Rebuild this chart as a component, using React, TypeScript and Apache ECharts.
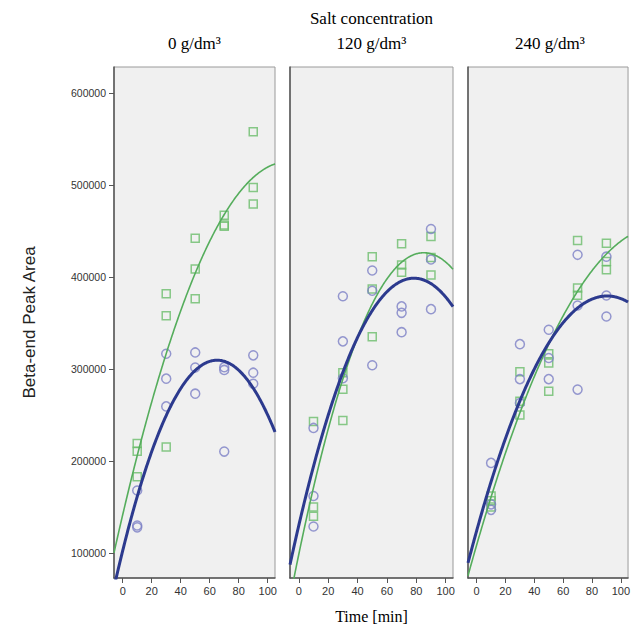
import React, { useEffect, useRef } from "react";
import * as echarts from "echarts";

const timePoints = [10, 30, 50, 70, 90];
const panelLabels = ["0 g/dm³", "120 g/dm³", "240 g/dm³"];
const yTicks = [100000, 200000, 300000, 400000, 500000, 600000];
const xTicks = [0, 20, 40, 60, 80, 100];

// green squares, three replicates per time point
const squares0 = [[219000, 210700, 183000], [381700, 357800, 215400], [442000, 408700, 376300], [467000, 456500, 455000], [557700, 497000, 479300]];
const squares120 = [[243000, 150000, 140000], [296000, 278000, 244000], [422000, 387000, 335000], [436000, 413000, 405000], [444000, 421000, 402000]];
const squares240 = [[162000, 157000, 150000], [297000, 265000, 250000], [316600, 306500, 275700], [439500, 388000, 380000], [436700, 416700, 407700]];
// blue circles
const circles0 = [[168000, 130000, 128000], [316600, 289500, 259400], [318000, 301700, 273200], [302000, 299000, 210300], [314800, 296000, 284000]];
const circles120 = [[236000, 162000, 129000], [379000, 330000, 290000], [407000, 385000, 304000], [368000, 361000, 340000], [452000, 419000, 365000]];
const circles240 = [[198000, 153000, 147000], [327000, 289000, 263000], [342600, 312000, 289000], [424000, 369000, 277600], [422000, 379800, 357000]];

const squaresByPanel = [squares0, squares120, squares240];
const circlesByPanel = [circles0, circles120, circles240];

const X_MIN = -6;
const X_MAX = 105;
const Y_MIN = 73000;
const Y_MAX = 628000;

function toPairs(groups: number[][]): number[][] {
  const out: number[][] = [];
  groups.forEach((vals, i) => vals.forEach((v) => out.push([timePoints[i], v])));
  return out;
}

// least-squares quadratic fit of the points
function quadFit(pairs: number[][]): number[] {
  let s0 = 0, s1 = 0, s2 = 0, s3 = 0, s4 = 0, t0 = 0, t1 = 0, t2 = 0;
  pairs.forEach(([x, y]) => {
    s0 += 1; s1 += x; s2 += x * x; s3 += x * x * x; s4 += x * x * x * x;
    t0 += y; t1 += x * y; t2 += x * x * y;
  });
  const det3 = (m: number[][]) =>
    m[0][0] * (m[1][1] * m[2][2] - m[1][2] * m[2][1]) -
    m[0][1] * (m[1][0] * m[2][2] - m[1][2] * m[2][0]) +
    m[0][2] * (m[1][0] * m[2][1] - m[1][1] * m[2][0]);
  const A = [[s0, s1, s2], [s1, s2, s3], [s2, s3, s4]];
  const B = [t0, t1, t2];
  const D = det3(A);
  return [0, 1, 2].map((c) => {
    const M = A.map((row, r) => row.map((v, k) => (k === c ? B[r] : v)));
    return det3(M) / D;
  });
}

function fitCurve(pairs: number[][]): number[][] {
  const [a, b, c] = quadFit(pairs);
  const out: number[][] = [];
  for (let x = X_MIN; x <= X_MAX + 0.001; x += 0.5) out.push([x, a + b * x + c * x * x]);
  return out;
}

const GREEN_PT = "#6cbd6c";
const GREEN_LINE = "#55ad5c";
const BLUE_PT = "#7c80c6";
const BLUE_LINE = "#2c3a8e";
const SERIF = "'Liberation Serif', 'Times New Roman', serif";
const SANS = "Arial, 'Liberation Sans', sans-serif";

const panelLefts = [114, 290, 468];
const panelWidths = [161, 163, 164];
const TOP = 67;
const HEIGHT = 511;

export default function App() {
  const ref = useRef<HTMLDivElement>(null);
  useEffect(() => {
    if (!ref.current) return;
    const chart = echarts.init(ref.current, null, { renderer: "svg" });
    const grids: any[] = [];
    const xAxes: any[] = [];
    const yAxes: any[] = [];
    const series: any[] = [];
    const graphics: any[] = [];
    for (let p = 0; p < 3; p++) {
      grids.push({
        left: panelLefts[p], top: TOP, width: panelWidths[p], height: HEIGHT,
        show: true, backgroundColor: "#f0f0f0", borderColor: "#9a9a9a", borderWidth: 1,
      });
      xAxes.push({
        type: "value", gridIndex: p, min: X_MIN, max: X_MAX,
        splitLine: { show: false },
        axisLine: { show: true, onZero: false, lineStyle: { color: "#555", width: 1.5 } },
        axisTick: { show: true, customValues: xTicks, length: 5, lineStyle: { color: "#555" } },
        axisLabel: { customValues: xTicks, margin: 7, fontSize: 11, color: "#333", fontFamily: SANS },
        name: p === 1 ? "Time [min]" : "",
        nameLocation: "middle", nameGap: 30,
        nameTextStyle: { fontFamily: SERIF, fontSize: 16, color: "#000" },
      });
      yAxes.push({
        type: "value", gridIndex: p, min: Y_MIN, max: Y_MAX,
        splitLine: { show: false },
        axisLine: { show: true, onZero: false, lineStyle: { color: "#555", width: 1.5 } },
        axisTick: { show: p === 0, customValues: yTicks, length: 5, lineStyle: { color: "#555" } },
        axisLabel: {
          show: p === 0, customValues: yTicks, margin: 8, fontSize: 10.5, color: "#333", fontFamily: SANS,
          formatter: (v: number) => String(v),
        },
        name: p === 0 ? "Beta-end Peak Area" : "",
        nameLocation: "middle", nameGap: 76,
        nameTextStyle: { fontFamily: SANS, fontSize: 17, color: "#222" },
      });
      const sq = toPairs(squaresByPanel[p]);
      const ci = toPairs(circlesByPanel[p]);
      series.push({
        type: "scatter", xAxisIndex: p, yAxisIndex: p, data: sq, symbol: "rect", symbolSize: 8,
        itemStyle: { color: "rgba(0,0,0,0)", borderColor: GREEN_PT, borderWidth: 1.5 }, z: 2,
      });
      series.push({
        type: "scatter", xAxisIndex: p, yAxisIndex: p, data: ci, symbol: "circle", symbolSize: 9,
        itemStyle: { color: "rgba(0,0,0,0)", borderColor: BLUE_PT, borderWidth: 1.5 }, z: 2,
      });
      series.push({
        type: "line", xAxisIndex: p, yAxisIndex: p, data: fitCurve(sq), showSymbol: false, symbol: "none",
        lineStyle: { color: GREEN_LINE, width: 1.6 }, clip: true, z: 3,
      });
      series.push({
        type: "line", xAxisIndex: p, yAxisIndex: p, data: fitCurve(ci), showSymbol: false, symbol: "none",
        lineStyle: { color: BLUE_LINE, width: 3 }, clip: true, z: 4,
      });
      graphics.push({
        type: "text", x: panelLefts[p] + panelWidths[p] / 2, y: 43,
        style: {
          text: panelLabels[p], font: `17px ${SERIF}`, fill: "#000",
          textAlign: "center", textVerticalAlign: "middle", align: "center", verticalAlign: "middle",
        },
      });
    }
    graphics.push({
      type: "text", x: panelLefts[1] + panelWidths[1] / 2, y: 18,
      style: {
        text: "Salt concentration", font: `17px ${SERIF}`, fill: "#000",
        textAlign: "center", textVerticalAlign: "middle", align: "center", verticalAlign: "middle",
      },
    });
    chart.setOption({
      animation: false,
      backgroundColor: "#ffffff",
      grid: grids,
      xAxis: xAxes,
      yAxis: yAxes,
      series,
      graphic: graphics,
    });
    return () => chart.dispose();
  }, []);
  return <div ref={ref} style={{ width: 633, height: 632, position: "absolute", left: 0, top: 0 }} />;
}
